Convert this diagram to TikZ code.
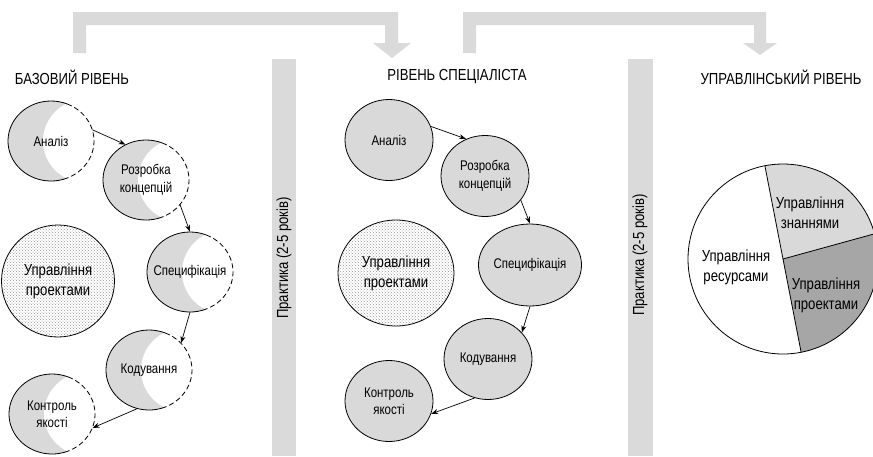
\documentclass[tikz,border=0pt]{standalone}
\usepackage{fontspec}
\setmainfont{Liberation Sans}[FakeStretch=0.82]
\usetikzlibrary{arrows.meta,shapes.geometric,patterns}
\definecolor{moongray}{RGB}{217,217,217}
\definecolor{darkgray}{RGB}{166,166,166}
\definecolor{bandgray}{RGB}{218,218,218}

\begin{document}
\begin{tikzpicture}[x=1pt, y=-1pt,
    lbl/.style={ellipse, inner sep=0pt, minimum width=86pt, minimum height=80pt,
                align=center, font=\fontsize{14}{17.5}\selectfont},
    cell/.style={lbl, draw=black, line width=0.8pt, fill=moongray,
                 minimum width=88pt, minimum height=81pt},
    mgmt/.style={ellipse, inner sep=0pt, draw=black, line width=0.8pt,
                 pattern=crosshatch dots, pattern color=gray!80,
                 align=center, font=\fontsize{16}{20}\selectfont},
    head/.style={font=\fontsize{16}{19}\selectfont},
    part/.style={align=center, font=\fontsize{16}{20}\selectfont},
    rim/.style={line width=0.8pt},
    moonedge/.style={line width=0.8pt, dash pattern=on 5pt off 3pt},
    flow/.style={-{Stealth[length=7pt,width=5pt]}, line width=0.7pt},
    band/.style={fill=bandgray}]
  \useasboundingbox (0,0) rectangle (873,456);

  % grey transfer arrows between the levels
  \fill[band] (73,53) -- (73,12) -- (398,12) -- (398,43) -- (411,43) -- (392,58)
    -- (373,43) -- (385,43) -- (385,25) -- (86,25) -- (86,53) -- cycle;
  \fill[band] (463,53) -- (463,12) -- (766,12) -- (766,43) -- (777,43) -- (760,55)
    -- (743,43) -- (754,43) -- (754,25) -- (476,25) -- (476,53) -- cycle;

  % practice bands
  \fill[band] (272,59) rectangle (296,456);
  \fill[band] (628,59) rectangle (653,456);
  \node[head, rotate=90] (p1) at (284,258) {Практика (2-5 років)};
  \node[head, rotate=90] (p2) at (640,255) {Практика (2-5 років)};

  % level titles
  \node[head] (h1) at (72,77) {БАЗОВИЙ РІВЕНЬ};
  \node[head] (h2) at (457,77) {РІВЕНЬ СПЕЦІАЛІСТА};
  \node[head] (h3) at (781,77) {УПРАВЛІНСЬКИЙ РІВЕНЬ};

  % base level: half-filled circles
  \foreach \x/\y in {51/141, 146/180, 190/272, 149/370, 52/414}{
    \fill[moongray] (\x,\y) ellipse[x radius=43, y radius=40];
    \begin{scope}
      \clip (\x,\y) ellipse[x radius=43, y radius=40];
      \fill[white] (\x+35,\y) ellipse[x radius=43, y radius=42];
    \end{scope}
    \draw[rim] (\x,\y) ++(68:43 and 40)
      arc[start angle=68, end angle=292, x radius=43, y radius=40];
    \draw[moonedge] (\x,\y) ++(-68:43 and 40)
      arc[start angle=-68, end angle=68, x radius=43, y radius=40];
  }
  \node[lbl] (b1) at (51,141) {Аналіз};
  \node[lbl] (b2) at (146,180) {Розробка\\концепцій};
  \node[lbl] (b3) at (190,272) {Специфікація};
  \node[lbl] (b4) at (149,370) {Кодування};
  \node[lbl] (b5) at (52,414) {Контроль\\якості};
  \node[mgmt, minimum width=113pt, minimum height=112pt] (bm) at (58,281)
    {Управління\\проектами};
  \draw[flow] (b1.15) -- (b2.120);
  \draw[flow] (b2.-36) -- (b3.90);
  \draw[flow] (b3.-90) -- (b4.40);
  \draw[flow] (b4.-107) -- (b5.-19);

  % specialist level
  \node[cell] (s1) at (389,140) {Аналіз};
  \node[cell] (s2) at (485,176) {Розробка\\концепцій};
  \node[cell, minimum width=91pt, minimum height=82pt] (s3) at (530,265) {Специфікація};
  \node[cell] (s4) at (488,359) {Кодування};
  \node[cell] (s5) at (389,401) {Контроль\\якості};
  \node[mgmt, minimum width=116pt, minimum height=106pt] (sm) at (396,273)
    {Управління\\проектами};
  \draw[flow] (s1.18) -- (s2.117);
  \draw[flow] (s2.-34) -- (s3.90);
  \draw[flow] (s3.-90) -- (s4.38);
  \draw[flow] (s4.-109) -- (s5.-17);

  % management level pie
  \coordinate (pc) at (783,259);
  \fill[moongray] (pc) -- ++(-15.4:95) arc[start angle=-15.4, end angle=-101, radius=95] -- cycle;
  \fill[darkgray] (pc) -- ++(79:95) arc[start angle=79, end angle=-15.4, radius=95] -- cycle;
  \draw[rim] (pc) circle[radius=95];
  \draw[rim] (pc) -- ++(-101:95);
  \draw[rim] (pc) -- ++(79:95);
  \draw[rim] (pc) -- ++(-15.4:95);
  \node[part] (pk) at (810,213) {Управління\\знаннями};
  \node[part] (pr) at (736,267) {Управління\\ресурсами};
  \node[part] (pp) at (826,295) {Управління\\проектами};
\end{tikzpicture}
\end{document}
